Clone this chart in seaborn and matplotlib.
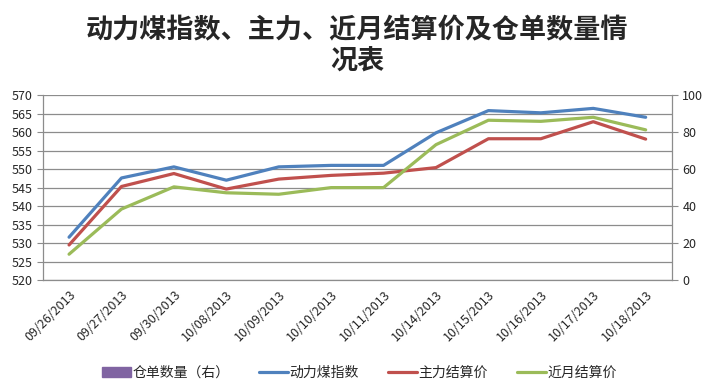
import numpy as np
import pandas as pd
import matplotlib
matplotlib.use("Agg")
import matplotlib.pyplot as plt
import seaborn as sns
from matplotlib.ticker import FixedLocator

# dates and series
dates = ["09/26/2013", "09/27/2013", "09/30/2013", "10/08/2013", "10/09/2013",
         "10/10/2013", "10/11/2013", "10/14/2013", "10/15/2013", "10/16/2013",
         "10/17/2013", "10/18/2013"]
index_price = [531.6, 547.6, 550.6, 547.0, 550.6, 551.0, 551.0, 559.8, 565.8, 565.2, 566.4, 564.0]
main_price = [529.5, 545.3, 548.8, 544.6, 547.3, 548.3, 548.9, 550.4, 558.2, 558.2, 562.8, 558.1]
near_price = [527.0, 539.2, 545.2, 543.6, 543.2, 545.0, 545.0, 556.6, 563.2, 562.9, 564.0, 560.6]
warrants = [0] * 12

names = ["动力煤指数", "主力结算价", "近月结算价"]
colors = ["#4F81BD", "#C0504D", "#9BBB59"]
bar_color = "#8064A2"

long_df = pd.DataFrame({
    "date": dates * 3,
    "value": index_price + main_price + near_price,
    "series": [names[0]] * 12 + [names[1]] * 12 + [names[2]] * 12,
})
bar_df = pd.DataFrame({"date": dates, "value": warrants})

sns.set_style("white")
plt.rcParams["font.family"] = ["Noto Sans CJK SC", "DejaVu Sans"]

fig = plt.figure(figsize=(7.14, 3.88), dpi=100)
ax = fig.add_axes([0.060, 0.278, 0.881, 0.477])
ax2 = ax.twinx()

# warehouse receipts (right axis) - all zero in the source chart
sns.barplot(data=bar_df, x="date", y="value", color=bar_color, ax=ax2, width=0.6)
sns.lineplot(data=long_df, x="date", y="value", hue="series", palette=colors,
             linewidth=2.3, ax=ax, legend=False, sort=False)

ax.set_ylim(520, 570)
ax.set_yticks(np.arange(520, 571, 5))
ax2.set_ylim(0, 100)
ax2.set_yticks(np.arange(0, 101, 20))
ax.set_xlim(-0.5, 11.5)
ax.set_xlabel("")
ax.set_ylabel("")
ax2.set_ylabel("")

ax.set_zorder(ax2.get_zorder() + 1)
ax.patch.set_visible(False)

ax.yaxis.grid(True, color="#8C8C8C", linewidth=0.9)
ax.set_axisbelow(True)

for a in (ax, ax2):
    a.spines["top"].set_visible(False)
    for s in ("left", "right", "bottom"):
        a.spines[s].set_color("#8C8C8C")
        a.spines[s].set_linewidth(0.9)
ax.spines["right"].set_visible(False)
ax2.spines["left"].set_visible(False)
ax2.spines["bottom"].set_visible(False)

ax.set_xticks(range(len(dates)))
ax.set_xticklabels(dates, rotation=45, ha="right", rotation_mode="anchor", fontsize=9)
ax.xaxis.set_minor_locator(FixedLocator(np.arange(-0.5, 12, 1)))
ax.tick_params(axis="x", which="major", length=0, pad=6)
ax.tick_params(axis="x", which="minor", length=4, color="#8C8C8C", direction="out")
ax.tick_params(axis="y", length=4, color="#8C8C8C", direction="out", labelsize=9, left=True)
ax2.tick_params(axis="y", length=4, color="#8C8C8C", direction="out", labelsize=9, right=True)

fig.text(0.5, 0.922, "动力煤指数、主力、近月结算价及仓单数量情", ha="center", va="center",
         fontsize=19.5, fontweight="bold")
fig.text(0.5, 0.842, "况表", ha="center", va="center", fontsize=19.5, fontweight="bold")

handles = [plt.Rectangle((0, 0), 1, 1, color=bar_color)]
handles += [plt.Line2D([0], [0], color=c, linewidth=2.3) for c in colors]
labels = ["仓单数量（右）"] + names
fig.legend(handles, labels, loc="center", bbox_to_anchor=(0.503, 0.039), ncol=4,
           frameon=False, fontsize=10, handlelength=2.1, handleheight=0.8,
           columnspacing=2.1, handletextpad=0.1)

fig.savefig("out.png", dpi=100)
